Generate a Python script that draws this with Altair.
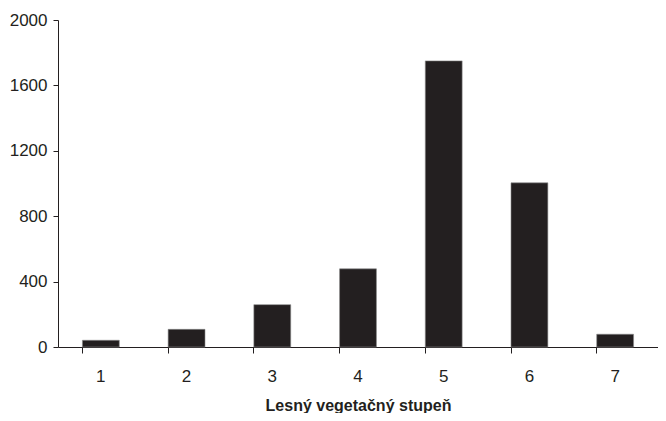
import altair as alt
import pandas as pd

categories = ["1", "2", "3", "4", "5", "6", "7"]
values = [41, 108, 259, 478, 1750, 1004, 78]
y_ticks = [0, 400, 800, 1200, 1600, 2000]

df = pd.DataFrame({"stupen": categories, "pocet": values})

FONT = "Liberation Sans Narrow, Arial Narrow, Liberation Sans, Arial"

chart = alt.Chart(df).mark_bar(color="#231f20", stroke="#8a8a8a", strokeWidth=0.6).encode(
    x=alt.X("stupen:N", sort=categories,
            scale=alt.Scale(paddingInner=0.57, paddingOuter=0.285),
            axis=alt.Axis(title="Lesný vegetačný stupeň", labelAngle=0, bandPosition=0,
                          domainColor="#231f20", tickColor="#231f20", tickSize=6,
                          labelFont=FONT, labelFontSize=17, labelColor="#231f20",
                          labelPadding=15, titleFont=FONT, titleFontSize=16,
                          titleFontWeight="bold", titleColor="#231f20", titlePadding=13)),
    y=alt.Y("pocet:Q", scale=alt.Scale(domain=[0, 2000], nice=False),
            axis=alt.Axis(title=None, values=y_ticks, grid=False, format="d",
                          domainColor="#231f20", tickColor="#231f20", tickSize=5,
                          labelFont=FONT, labelFontSize=17, labelColor="#231f20",
                          labelPadding=6)),
).properties(
    width=600, height=327,
    padding={"left": 50, "top": 12, "right": 0, "bottom": 66},
    autosize=alt.AutoSizeParams(type="none"),
).configure_view(stroke=None)

chart.save("out.html", embed_options={"renderer": "svg", "actions": False})
